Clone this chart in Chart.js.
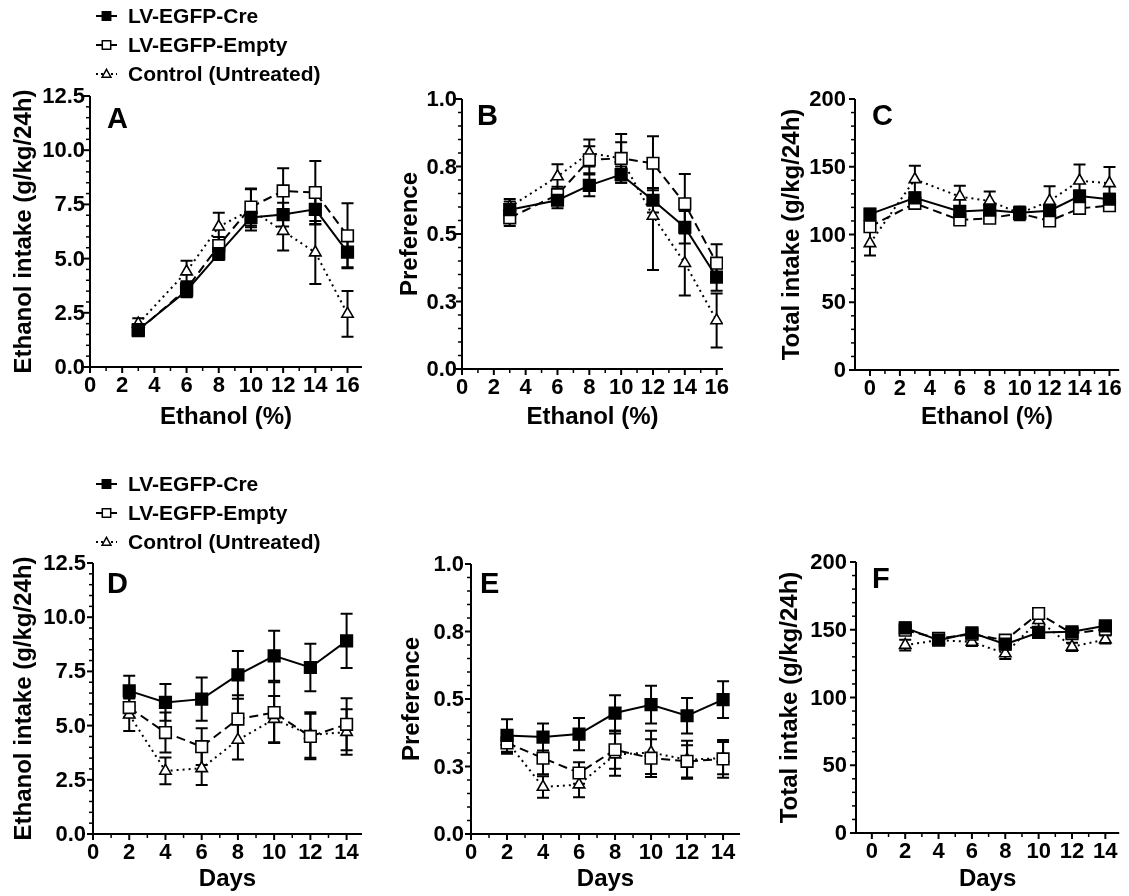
<!DOCTYPE html>
<html>
<head>
<meta charset="utf-8">
<script src="https://cdn.jsdelivr.net/npm/chart.js@4.4.1/dist/chart.umd.min.js"></script>
<style>
  body { margin: 0; background: #fff; width: 1129px; height: 896px; position: relative; overflow: hidden; }
  canvas { position: absolute; }
</style>
</head>
<body>
<canvas id="pA" width="380" height="440" style="left:0px;top:0px"></canvas>
<canvas id="pB" width="380" height="440" style="left:380px;top:0px"></canvas>
<canvas id="pC" width="369" height="440" style="left:760px;top:0px"></canvas>
<canvas id="pD" width="380" height="436" style="left:0px;top:460px"></canvas>
<canvas id="pE" width="380" height="436" style="left:380px;top:460px"></canvas>
<canvas id="pF" width="369" height="436" style="left:760px;top:460px"></canvas>
<script>
// series / categories
const seriesNames = ['LV-EGFP-Cre', 'LV-EGFP-Empty', 'Control (Untreated)'];
const ethanolPct = [3, 6, 8, 10, 12, 14, 16];
const ethanolPctC = [0, 3, 6, 8, 10, 12, 14, 16];
const days = [2, 4, 6, 8, 10, 12, 14];

// A - ethanol intake vs ethanol %
const aCre = [1.72, 3.52, 5.23, 6.9, 7.03, 7.27, 5.3];
const aCreErr = [0.15, 0.3, 0.3, 0.45, 0.55, 0.7, 0.7];
const aEmpty = [1.68, 3.6, 5.6, 7.38, 8.12, 8.05, 6.05];
const aEmptyErr = [0.15, 0.35, 0.4, 0.85, 1.05, 1.45, 1.5];
const aCtrl = [2.0, 4.4, 6.47, 7.25, 6.27, 5.28, 2.45];
const aCtrlErr = [0.25, 0.5, 0.65, 0.95, 0.9, 1.45, 1.05];

// B - preference vs ethanol %
const bCre = [0.59, 0.625, 0.68, 0.72, 0.625, 0.525, 0.34];
const bCreErr = [0.03, 0.03, 0.04, 0.03, 0.045, 0.06, 0.05];
const bEmpty = [0.56, 0.645, 0.775, 0.78, 0.762, 0.612, 0.392];
const bEmptyErr = [0.03, 0.03, 0.05, 0.09, 0.1, 0.11, 0.07];
const bCtrl = [0.6, 0.713, 0.8, 0.78, 0.567, 0.392, 0.18];
const bCtrlErr = [0.03, 0.045, 0.05, 0.06, 0.2, 0.12, 0.1];

// C - total intake vs ethanol %
const cCre = [115, 127, 117, 118, 116, 117.6, 128.4, 126];
const cCreErr = [4, 4, 4, 4, 4, 4, 4, 4];
const cEmpty = [105.8, 123, 110.7, 112, 115.6, 110, 119.3, 121.3];
const cEmptyErr = [3, 3, 3, 3, 3, 3, 3, 3];
const cCtrl = [93.5, 140.7, 128, 124.7, 115.6, 124.7, 139.7, 137.8];
const cCtrlErr = [9, 10, 8, 7, 5, 11, 12, 12];

// D - ethanol intake vs days
const dCre = [6.6, 6.07, 6.22, 7.34, 8.22, 7.68, 8.91];
const dCreErr = [0.7, 0.85, 1.0, 1.1, 1.15, 1.1, 1.25];
const dEmpty = [5.83, 4.68, 4.03, 5.3, 5.6, 4.5, 5.06];
const dEmptyErr = [0.45, 0.92, 0.85, 1.1, 1.4, 1.05, 1.2];
const dCtrl = [5.5, 2.91, 3.03, 4.34, 5.3, 4.57, 4.7];
const dCtrlErr = [0.75, 0.62, 0.77, 0.9, 1.07, 1.05, 1.05];

// E - preference vs days
const eCre = [0.365, 0.359, 0.37, 0.448, 0.479, 0.438, 0.498];
const eCreErr = [0.06, 0.05, 0.06, 0.066, 0.07, 0.066, 0.068];
const eEmpty = [0.337, 0.281, 0.226, 0.312, 0.281, 0.269, 0.278];
const eEmptyErr = [0.04, 0.06, 0.04, 0.07, 0.07, 0.06, 0.07];
const eCtrl = [0.343, 0.174, 0.183, 0.294, 0.302, 0.275, 0.281];
const eCtrlErr = [0.04, 0.04, 0.047, 0.078, 0.08, 0.07, 0.06];

// F - total intake vs days
const fCre = [151.4, 142.3, 147.7, 139.4, 148, 148.5, 152.9];
const fCreErr = [4, 3, 3, 4, 4, 3, 3];
const fEmpty = [149.7, 143.6, 146.7, 142.3, 162, 147.2, 150.4];
const fEmptyErr = [3, 3, 3, 3, 4, 3, 3];
const fCtrl = [138.7, 142.3, 141, 132.5, 157, 137.4, 142.8];
const fCtrlErr = [4, 3, 3, 4, 5, 3, 3];

// tick labels
const ethanolTicks = [0, 2, 4, 6, 8, 10, 12, 14, 16];
const dayTicks = [0, 2, 4, 6, 8, 10, 12, 14];
const intakeTicks = [0, 2.5, 5, 7.5, 10, 12.5];
const intakeTickLabels = ['0.0', '2.5', '5.0', '7.5', '10.0', '12.5'];
const prefTicks = [0, 0.25, 0.5, 0.75, 1];
const prefTickLabels = ['0.0', '0.3', '0.5', '0.8', '1.0'];
const totalTicks = [0, 50, 100, 150, 200];
const totalTickLabels = ['0', '50', '100', '150', '200'];

const FONT = '"Liberation Sans", Arial, Helvetica, sans-serif';
Chart.defaults.font.family = FONT;
Chart.defaults.color = '#000';

const styles = [
  { dash: [], point: 'rect', fill: '#000', radius: 8.2 },
  { dash: [9, 5], point: 'rect', fill: '#fff', radius: 8.2 },
  { dash: [2, 4], point: 'triangle', fill: '#fff', radius: 6.6 }
];

// minor tick positions between majors
const minorsBetween = (majors, step, max) => {
  const out = [];
  for (let v = majors[0]; v <= max + 1e-9; v += step) {
    const r = Math.round(v * 1000) / 1000;
    if (!majors.some(m => Math.abs(m - r) < 1e-6)) out.push(r);
  }
  return out;
};

const drawMarker = (ctx, style, x, y, r) => {
  ctx.beginPath();
  if (style.point === 'rect') {
    ctx.rect(x - r, y - r, 2 * r, 2 * r);
  } else {
    ctx.moveTo(x, y - r * 1.1);
    ctx.lineTo(x + r * 1.05, y + r * 0.75);
    ctx.lineTo(x - r * 1.05, y + r * 0.75);
    ctx.closePath();
  }
  ctx.fillStyle = style.fill;
  ctx.fill();
  ctx.lineWidth = 1.5;
  ctx.strokeStyle = '#000';
  ctx.stroke();
};

const panelDecor = {
  id: 'panelDecor',
  beforeDatasetsDraw(chart, args, opts) {
    const ctx = chart.ctx;
    const yScale = chart.scales.y;
    ctx.save();
    ctx.strokeStyle = '#000';
    ctx.lineWidth = 2;
    opts.errors.forEach((errs, i) => {
      const meta = chart.getDatasetMeta(i);
      const vals = chart.data.datasets[i].data;
      meta.data.forEach((pt, j) => {
        const v = vals[j].y, e = errs[j];
        const yt = yScale.getPixelForValue(v + e);
        const yb = yScale.getPixelForValue(v - e);
        ctx.beginPath();
        ctx.moveTo(pt.x, yt); ctx.lineTo(pt.x, yb);
        ctx.moveTo(pt.x - 6, yt); ctx.lineTo(pt.x + 6, yt);
        ctx.moveTo(pt.x - 6, yb); ctx.lineTo(pt.x + 6, yb);
        ctx.stroke();
      });
    });
    ctx.restore();
  },
  afterDraw(chart, args, opts) {
    const ctx = chart.ctx;
    const area = chart.chartArea;
    const xs = chart.scales.x, ys = chart.scales.y;
    ctx.save();
    ctx.strokeStyle = '#000';
    // axis lines
    ctx.lineWidth = 2;
    ctx.beginPath();
    ctx.moveTo(area.left, area.top); ctx.lineTo(area.left, area.bottom + 1);
    ctx.moveTo(area.left - 1, area.bottom); ctx.lineTo(area.right, area.bottom);
    ctx.stroke();
    // tick marks
    const tick = (scale, v, len, horizontal) => {
      const p = scale.getPixelForValue(v);
      ctx.beginPath();
      if (horizontal) { ctx.moveTo(p, area.bottom); ctx.lineTo(p, area.bottom + len); }
      else { ctx.moveTo(area.left, p); ctx.lineTo(area.left - len, p); }
      ctx.stroke();
    };
    ctx.lineWidth = 2;
    opts.xMajor.forEach(v => tick(xs, v, 6, true));
    opts.yMajor.forEach(v => tick(ys, v, 6, false));
    ctx.lineWidth = 1.5;
    opts.xMinor.forEach(v => tick(xs, v, 4, true));
    opts.yMinor.forEach(v => tick(ys, v, 4, false));
    // tick labels, placed on the chart's own scales
    ctx.fillStyle = '#000';
    ctx.font = 'bold 22px ' + FONT;
    ctx.textBaseline = 'middle';
    ctx.textAlign = 'center';
    xs.ticks.forEach(t => {
      ctx.fillText(String(t.value), xs.getPixelForValue(t.value), area.bottom + 18.5);
    });
    ctx.textAlign = 'right';
    ys.ticks.forEach((t, i) => {
      ctx.fillText(opts.yLabels[i], area.left - opts.yLabelGap, ys.getPixelForValue(t.value) + 1);
    });
    // panel letter
    ctx.font = 'bold 29px ' + FONT;
    ctx.textAlign = 'left';
    ctx.fillText(opts.letter, area.left + opts.letterDx, area.top + opts.letterDy);
    // legend
    if (opts.legendRows) {
      opts.legendRows.forEach((ly, i) => {
        const st = styles[i];
        ctx.lineWidth = 2;
        ctx.setLineDash(i === 2 ? [2, 3] : []);
        ctx.beginPath();
        ctx.moveTo(96, ly); ctx.lineTo(117, ly);
        ctx.stroke();
        ctx.setLineDash([]);
        drawMarker(ctx, st, 106.5, ly, 4.2);
        ctx.fillStyle = '#000';
        ctx.font = 'bold 21px ' + FONT;
        ctx.textBaseline = 'middle';
        ctx.fillText(seriesNames[i], 128, ly + 1);
      });
    }
    ctx.restore();
  }
};

const makePanel = (cfg) => {
  const canvas = document.getElementById(cfg.id);
  const W = canvas.width, H = canvas.height;
  const [aLeft, aTop, aRight, aBottom] = cfg.area;
  const titleFont = { family: FONT, size: 24, weight: 'bold' };
  const datasets = cfg.series.map((vals, i) => ({
    label: seriesNames[i],
    data: cfg.x.map((xv, j) => ({ x: xv, y: vals[j] })),
    borderColor: '#000',
    borderWidth: 2,
    borderDash: styles[i].dash,
    pointStyle: styles[i].point,
    pointRadius: styles[i].radius,
    pointBackgroundColor: styles[i].fill,
    pointBorderColor: '#000',
    pointBorderWidth: 1.6,
    tension: 0,
    fill: false
  }));
  return new Chart(canvas, {
    type: 'line',
    data: { datasets },
    options: {
      responsive: false,
      animation: false,
      events: [],
      layout: { padding: { left: 0, top: aTop, right: W - aRight, bottom: 0 } },
      plugins: {
        legend: { display: false },
        tooltip: { enabled: false },
        panelDecor: {
          errors: cfg.errors,
          letter: cfg.letter, letterDx: cfg.letterPos[0], letterDy: cfg.letterPos[1],
          xMajor: cfg.xTicks, yMajor: cfg.yTicks,
          xMinor: minorsBetween(cfg.xTicks, cfg.xMinorStep, cfg.xMax),
          yMinor: minorsBetween(cfg.yTicks, cfg.yMinorStep, cfg.yTicks[cfg.yTicks.length - 1]),
          yLabels: cfg.yLabels, yLabelGap: cfg.yLabelGap,
          legendRows: cfg.legendRows || null
        }
      },
      scales: {
        x: {
          type: 'linear',
          min: cfg.xMin, max: cfg.xMax,
          afterBuildTicks: s => { s.ticks = cfg.xTicks.map(v => ({ value: v })); },
          afterFit: s => { s.height = H - aBottom; },
          grid: { display: false, drawTicks: false },
          border: { display: false },
          ticks: { display: false },
          title: {
            display: true, text: cfg.xTitle, color: '#000',
            font: titleFont,
            padding: { top: cfg.xTitlePad, bottom: cfg.xTitlePad }
          }
        },
        y: {
          type: 'linear',
          min: cfg.yTicks[0], max: cfg.yTicks[cfg.yTicks.length - 1],
          afterBuildTicks: s => { s.ticks = cfg.yTicks.map(v => ({ value: v })); },
          afterFit: s => { s.width = aLeft; },
          grid: { display: false, drawTicks: false },
          border: { display: false },
          ticks: { display: false },
          title: {
            display: true, text: cfg.yTitle, color: '#000',
            font: titleFont,
            padding: { top: cfg.yTitlePad, bottom: cfg.yTitlePad }
          }
        }
      }
    },
    plugins: [panelDecor]
  });
};

makePanel({
  id: 'pA', area: [90, 96, 362, 367], letter: 'A', letterPos: [17, 24],
  x: ethanolPct, series: [aCre, aEmpty, aCtrl], errors: [aCreErr, aEmptyErr, aCtrlErr],
  xMin: 0, xMax: 16.9, xTicks: ethanolTicks, xMinorStep: 1,
  yTicks: intakeTicks, yLabels: intakeTickLabels, yMinorStep: 0.5, yLabelGap: 5,
  xTitle: 'Ethanol (%)', yTitle: 'Ethanol intake (g/kg/24h)', xTitlePad: 8, yTitlePad: 10,
  legendRows: [16, 45, 74]
});
makePanel({
  id: 'pB', area: [82, 99, 343, 369], letter: 'B', letterPos: [15, 18],
  x: ethanolPct, series: [bCre, bEmpty, bCtrl], errors: [bCreErr, bEmptyErr, bCtrlErr],
  xMin: 0, xMax: 16.4, xTicks: ethanolTicks, xMinorStep: 1,
  yTicks: prefTicks, yLabels: prefTickLabels, yMinorStep: 0.05, yLabelGap: 5,
  xTitle: 'Ethanol (%)', yTitle: 'Preference', xTitlePad: 8, yTitlePad: 16
});
makePanel({
  id: 'pC', area: [95, 99, 363, 370], letter: 'C', letterPos: [17, 18],
  x: ethanolPctC, series: [cCre, cEmpty, cCtrl], errors: [cCreErr, cEmptyErr, cCtrlErr],
  xMin: -1, xMax: 16.65, xTicks: ethanolTicks, xMinorStep: 1,
  yTicks: totalTicks, yLabels: totalTickLabels, yMinorStep: 10, yLabelGap: 9,
  xTitle: 'Ethanol (%)', yTitle: 'Total intake (g/kg/24h)', xTitlePad: 8, yTitlePad: 18
});
makePanel({
  id: 'pD', area: [93, 103, 362, 374], letter: 'D', letterPos: [14, 22],
  x: days, series: [dCre, dEmpty, dCtrl], errors: [dCreErr, dEmptyErr, dCtrlErr],
  xMin: 0, xMax: 14.85, xTicks: dayTicks, xMinorStep: 1,
  yTicks: intakeTicks, yLabels: intakeTickLabels, yMinorStep: 0.5, yLabelGap: 7,
  xTitle: 'Days', yTitle: 'Ethanol intake (g/kg/24h)', xTitlePad: 2, yTitlePad: 10,
  legendRows: [24, 53, 82]
});
makePanel({
  id: 'pE', area: [91, 104, 360, 374], letter: 'E', letterPos: [9, 21],
  x: days, series: [eCre, eEmpty, eCtrl], errors: [eCreErr, eEmptyErr, eCtrlErr],
  xMin: 0, xMax: 14.94, xTicks: dayTicks, xMinorStep: 1,
  yTicks: prefTicks, yLabels: prefTickLabels, yMinorStep: 0.05, yLabelGap: 7,
  xTitle: 'Days', yTitle: 'Preference', xTitlePad: 2, yTitlePad: 18
});
makePanel({
  id: 'pF', area: [96, 102, 362, 373], letter: 'F', letterPos: [16, 18],
  x: days, series: [fCre, fEmpty, fCtrl], errors: [fCreErr, fEmptyErr, fCtrlErr],
  xMin: -0.95, xMax: 14.83, xTicks: dayTicks, xMinorStep: 1,
  yTicks: totalTicks, yLabels: totalTickLabels, yMinorStep: 10, yLabelGap: 9,
  xTitle: 'Days', yTitle: 'Total intake (g/kg/24h)', xTitlePad: 2, yTitlePad: 16
});
</script>
</body>
</html>
